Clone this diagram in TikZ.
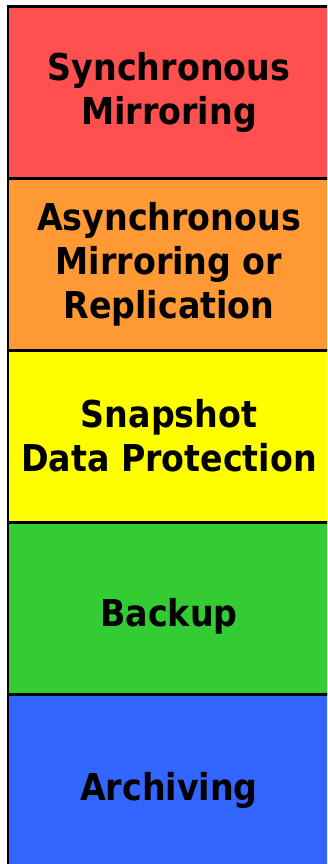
\documentclass[tikz,border=0pt]{standalone}
\usepackage{fontspec}
\setmainfont{DejaVu Sans Condensed}
\definecolor{cred}{HTML}{FF5050}
\definecolor{corange}{HTML}{FF9933}
\definecolor{cyellow}{HTML}{FFFF00}
\definecolor{cgreen}{HTML}{33CC33}
\definecolor{cblue}{HTML}{3366FF}
\begin{document}
\begin{tikzpicture}[x=1pt,y=1pt,
  layer/.style={draw=black,line width=2.8pt,minimum width=345pt,minimum height=172pt,
    anchor=north west,inner sep=0pt,outer sep=0pt},
  lbl/.style={align=center,inner sep=0pt,font=\fontsize{37}{44}\selectfont\bfseries}]
\useasboundingbox (0,0) rectangle (327,-864);
\clip (0,0) rectangle (327,-864);
\node[layer,fill=cred] (l1) at (8,-6.5) {};
\node[layer,fill=corange] (l2) at (l1.south west) {};
\node[layer,fill=cyellow] (l3) at (l2.south west) {};
\node[layer,fill=cgreen] (l4) at (l3.south west) {};
\node[layer,fill=cblue] (l5) at (l4.south west) {};
\node[lbl] (t1) at (169,-92) {Synchronous\\Mirroring};
\node[lbl] (t2) at (169,-264) {Asynchronous\\Mirroring or\\Replication};
\node[lbl] (t3) at (169,-436) {Snapshot\\Data Protection};
\node[lbl,anchor=base] (t4) at (169,-626) {Backup};
\node[lbl,anchor=base] (t5) at (169,-800) {Archiving};
\end{tikzpicture}
\end{document}
